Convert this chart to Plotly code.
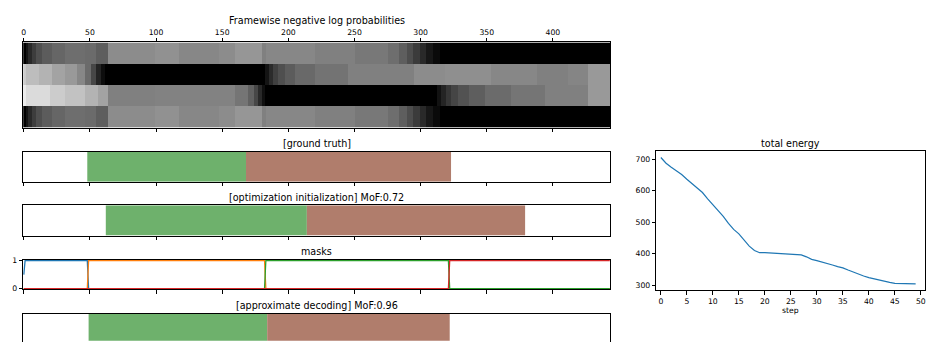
import numpy as np
import plotly.graph_objects as go

W, H = 929, 346
N_FRAMES = 444

# ---- framewise negative log probabilities (grey level per run of frames) ----
ROW0_ENDS = [2, 4, 7, 10, 14, 22, 32, 47, 55, 64, 100, 118, 148, 160, 181, 184,
             221, 251, 276, 284, 290, 295, 300, 305, 310, 315, 444]
ROW0_LEVELS = [0.0, 0.08, 0.16, 0.24, 0.31, 0.36, 0.40, 0.43, 0.42, 0.37, 0.55, 0.57,
               0.53, 0.55, 0.59, 0.50, 0.53, 0.50, 0.47, 0.43, 0.37, 0.30, 0.23, 0.16,
               0.09, 0.04, 0.0]
ROW1_ENDS = [2, 12, 22, 32, 41, 47, 51, 55, 59, 62, 183, 186, 189, 193, 198, 206,
             221, 246, 296, 319, 354, 389, 412, 427, 444]
ROW1_LEVELS = [0.80, 0.74, 0.70, 0.64, 0.60, 0.53, 0.42, 0.28, 0.14, 0.05, 0.0, 0.08,
               0.17, 0.25, 0.31, 0.36, 0.41, 0.45, 0.50, 0.55, 0.56, 0.53, 0.50, 0.52,
               0.60]
ROW2_ENDS = [2, 20, 32, 47, 57, 64, 100, 160, 170, 175, 178, 181, 183, 313, 316,
             320, 324, 329, 337, 349, 369, 395, 427, 444]
ROW2_LEVELS = [0.92, 0.86, 0.80, 0.76, 0.70, 0.64, 0.50, 0.51, 0.46, 0.38, 0.28, 0.16,
               0.06, 0.0, 0.07, 0.14, 0.21, 0.27, 0.32, 0.37, 0.42, 0.46, 0.50, 0.60]
ROW3_ENDS = [2, 4, 7, 10, 14, 22, 32, 47, 55, 64, 100, 118, 148, 160, 181, 184,
             221, 251, 276, 284, 290, 295, 300, 305, 310, 315, 444]
ROW3_LEVELS = [0.0, 0.08, 0.16, 0.24, 0.31, 0.36, 0.40, 0.43, 0.42, 0.37, 0.55, 0.57,
               0.53, 0.55, 0.59, 0.50, 0.53, 0.50, 0.47, 0.43, 0.37, 0.30, 0.23, 0.16,
               0.09, 0.04, 0.0]

# ---- segmentations: boundaries (frames) and class of each segment ----
GT_BOUNDS = [0, 48, 168, 323, 444]
GT_CLASSES = ["bg", "A", "B", "bg"]
INIT_BOUNDS = [0, 62, 214, 379, 444]
INIT_CLASSES = ["bg", "A", "B", "bg"]
DEC_BOUNDS = [0, 49, 184, 322, 444]
DEC_CLASSES = ["bg", "A", "B", "bg"]
CLASS_COLORS = {"bg": "#ffffff", "A": "#6eb16c", "B": "#b07d6c"}

# ---- soft segment masks (corner points of each mask curve) ----
MASK_X = [[0, 1, 48, 49, 443],
          [0, 48, 49, 182, 183, 443],
          [0, 182, 183, 321, 322, 443],
          [0, 321, 322, 443]]
MASK_Y = [[0.5, 1, 1, 0, 0],
          [0, 0, 1, 1, 0, 0],
          [0, 0, 1, 1, 0, 0],
          [0, 0, 1, 1]]
MASK_COLORS = ["#1f77b4", "#ff7f0e", "#2ca02c", "#d62728"]

# ---- total energy per optimisation step ----
STEPS = list(range(50))
ENERGY = [705, 687, 674, 663, 651, 636, 623, 609, 594, 574,
          556, 537, 518, 496, 477, 463, 442, 424, 410, 403,
          403, 402, 401, 400, 398, 396, 396, 396, 390, 382,
          378, 374, 370, 364, 359, 355, 348, 341, 334, 329,
          324, 320, 315, 311, 309, 306, 305, 304, 304, 304]

FRAME_TICKS = list(range(0, 401, 50))
FONT = "DejaVu Sans"
TITLE_SIZE = 9.6
TICK_SIZE = 7.7


def expand(ends, levels):
    starts = [0] + ends[:-1]
    return np.repeat(levels, np.diff([0] + ends)) if starts is not None else None


def px_x(p):
    return p / W


def px_y(p):
    return 1 - p / H


z = np.vstack([expand(ROW0_ENDS, ROW0_LEVELS), expand(ROW1_ENDS, ROW1_LEVELS),
               expand(ROW2_ENDS, ROW2_LEVELS), expand(ROW3_ENDS, ROW3_LEVELS)])

fig = go.Figure()

fig.add_trace(go.Heatmap(z=z, x=np.arange(N_FRAMES), y=[0, 1, 2, 3],
                         colorscale=[[0, "black"], [1, "white"]], zmin=0, zmax=1,
                         showscale=False, xaxis="x", yaxis="y"))


def add_segments(bounds, classes, ax):
    starts, lengths, colors = [], [], []
    for i, c in enumerate(classes):
        if c == "bg":
            continue
        starts.append(bounds[i])
        lengths.append(bounds[i + 1] - bounds[i])
        colors.append(CLASS_COLORS[c])
    fig.add_trace(go.Bar(y=[0] * len(starts), x=lengths, base=starts, orientation="h",
                         width=1, marker=dict(color=colors, line=dict(width=0)),
                         xaxis="x" + ax, yaxis="y" + ax, showlegend=False))


add_segments(GT_BOUNDS, GT_CLASSES, "2")
add_segments(INIT_BOUNDS, INIT_CLASSES, "3")
add_segments(DEC_BOUNDS, DEC_CLASSES, "5")

for mx, my, col in zip(MASK_X, MASK_Y, MASK_COLORS):
    fig.add_trace(go.Scatter(x=mx, y=my, mode="lines", line=dict(color=col, width=1.3),
                             xaxis="x4", yaxis="y4", showlegend=False))

fig.add_trace(go.Scatter(x=STEPS, y=ENERGY, mode="lines",
                         line=dict(color="#1f77b4", width=1.2),
                         xaxis="x6", yaxis="y6", showlegend=False))

LEFT_X = [px_x(21.2), px_x(610.4)]
frame_range = [-0.5, N_FRAMES - 0.5]
axis_common = dict(showgrid=False, zeroline=False, showline=True, linecolor="black",
                   linewidth=0.9, tickcolor="black", tickwidth=0.8, ticklen=3.5,
                   tickfont=dict(family=FONT, size=TICK_SIZE, color="black"))

layout = dict(
    width=W, height=H, margin=dict(l=0, r=0, t=0, b=0),
    paper_bgcolor="white", plot_bgcolor="white", barmode="overlay",
    showlegend=False,
    font=dict(family=FONT, size=TICK_SIZE, color="black"),
    # heatmap
    xaxis=dict(axis_common, domain=LEFT_X, range=frame_range, side="top",
               ticks="outside", mirror="ticks", tickvals=FRAME_TICKS, anchor="y"),
    yaxis=dict(axis_common, domain=[px_y(126.7), px_y(39.3)], range=[3.5, -0.5],
               showticklabels=False, ticks="", mirror=True, anchor="x"),
    # ground truth
    xaxis2=dict(axis_common, domain=LEFT_X, range=frame_range, ticks="outside",
                mirror=True, tickvals=FRAME_TICKS, showticklabels=False, anchor="y2"),
    yaxis2=dict(axis_common, domain=[px_y(182), px_y(151)], range=[-0.5, 0.5],
                showticklabels=False, ticks="", mirror=True, anchor="x2"),
    # initialization
    xaxis3=dict(axis_common, domain=LEFT_X, range=frame_range, ticks="outside",
                mirror=True, tickvals=FRAME_TICKS, showticklabels=False, anchor="y3"),
    yaxis3=dict(axis_common, domain=[px_y(237), px_y(206)], range=[-0.5, 0.5],
                showticklabels=False, ticks="", mirror=True, anchor="x3"),
    # masks
    xaxis4=dict(axis_common, domain=LEFT_X, range=frame_range, ticks="outside",
                mirror=True, tickvals=FRAME_TICKS, showticklabels=False, anchor="y4"),
    yaxis4=dict(axis_common, domain=[px_y(292), px_y(262)], range=[-0.02, 1.02],
                ticks="outside", tickvals=[0, 1], mirror=True, anchor="x4"),
    # approximate decoding (runs past the bottom edge)
    xaxis5=dict(axis_common, domain=LEFT_X, range=frame_range, side="top", ticks="",
                showticklabels=False, mirror=False, anchor="y5"),
    yaxis5=dict(axis_common, domain=[0, px_y(317)], range=[-0.55, 0.5],
                showticklabels=False, ticks="", mirror=True, anchor="x5"),
    # total energy
    xaxis6=dict(axis_common, domain=[px_x(656.3), px_x(926)], range=[-0.9, 50.8],
                ticks="outside", mirror=True, tickvals=list(range(0, 51, 5)), anchor="y6"),
    yaxis6=dict(axis_common, domain=[px_y(293), px_y(150.7)], range=[284, 725],
                ticks="outside", mirror=True, tickvals=[300, 400, 500, 600, 700],
                anchor="x6"),
)
fig.update_layout(**layout)

titles = [
    ("Framewise negative log probabilities", 316, 17),
    ("[ground truth]", 316, 143),
    ("[optimization initialization] MoF:0.72", 316, 198.5),
    ("masks", 316, 253.5),
    ("[approximate decoding] MoF:0.96", 316, 309),
    ("total energy", 791, 143),
]
for text, cx, cy in titles:
    fig.add_annotation(text=text, x=px_x(cx), y=px_y(cy), xref="paper", yref="paper",
                       xanchor="center", yanchor="middle", showarrow=False,
                       font=dict(family=FONT, size=TITLE_SIZE, color="black"))
fig.add_annotation(text="step", x=px_x(791), y=px_y(314), xref="paper", yref="paper",
                   xanchor="center", yanchor="middle", showarrow=False,
                   font=dict(family=FONT, size=TICK_SIZE, color="black"))

fig.write_html("out.html")
